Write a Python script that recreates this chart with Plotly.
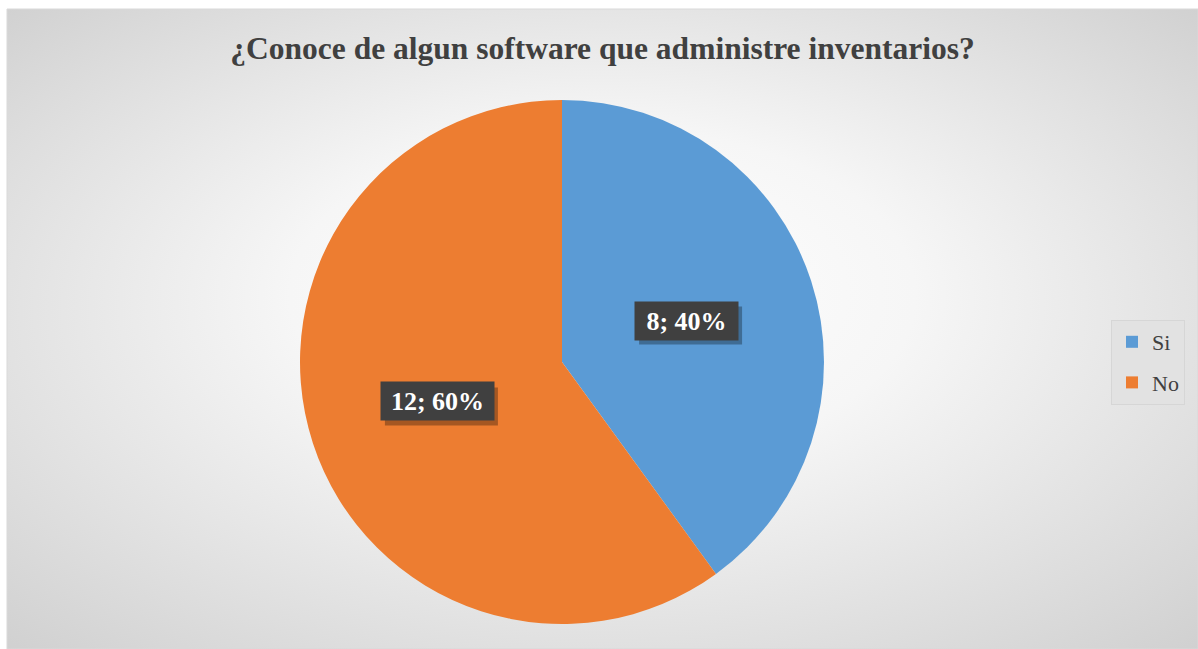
import math
import base64
import plotly.graph_objects as go

categories = ["Si", "No"]
values = [8, 12]
colors = ["#5B9BD5", "#ED7D31"]
title_text = "¿Conoce de algun software que administre inventarios?"

W, H = 1198, 649
cx, cy, R = 562, 362, 262  # pixel centre / radius of pie

fig = go.Figure()
fig.add_trace(go.Pie(
    labels=categories, values=values, sort=False, direction="clockwise",
    rotation=0, marker=dict(colors=colors, line=dict(width=0)),
    textinfo="none", hoverinfo="label+value+percent", showlegend=False,
    domain=dict(x=[(cx - R) / W, (cx + R) / W], y=[(H - cy - R) / H, (H - cy + R) / H]),
))

# legend entries (separate groups so that the gap matches the reference)
for i, (cat, col) in enumerate(zip(categories, colors)):
    fig.add_trace(go.Scatter(x=[None], y=[None], mode="markers", name=cat,
                             marker=dict(symbol="square", size=12, color=col),
                             legendgroup=f"g{i}", showlegend=True, hoverinfo="skip"))

# background radial gradient
svg = f'''<svg xmlns="http://www.w3.org/2000/svg" width="{W}" height="{H}" viewBox="0 0 {W} {H}" preserveAspectRatio="none">
<defs><radialGradient id="g" cx="50%" cy="50%" r="75%" fx="50%" fy="42%">
<stop offset="0%" stop-color="#ffffff"/><stop offset="35%" stop-color="#f6f6f6"/>
<stop offset="100%" stop-color="#cdcdcd"/></radialGradient></defs>
<rect width="{W}" height="{H}" fill="url(#g)"/></svg>'''
uri = "data:image/svg+xml;base64," + base64.b64encode(svg.encode()).decode()
x0, y0 = 7, 9
fig.add_layout_image(dict(source=uri, xref="paper", yref="paper", x=x0 / W, y=1 - y0 / H,
                          sizex=1 - x0 / W, sizey=1 - y0 / H, xanchor="left", yanchor="top",
                          sizing="stretch", layer="below"))
fig.add_shape(type="rect", xref="paper", yref="paper", x0=x0 / W, x1=1, y0=0, y1=1 - y0 / H,
              line=dict(color="#d9d9d9", width=1), layer="below")

# data labels computed from values
total = sum(values)
cum = 0
for cat, v in zip(categories, values):
    mid = (cum + v / 2) / total * 2 * math.pi
    cum += v
    px = cx + 0.5 * R * math.sin(mid)
    py = cy - 0.5 * R * math.cos(mid) - 1
    txt = f"{v}; {round(100 * v / total)}%"
    bw = 95 if v < 10 else 105
    bh = 30
    # shadow
    sx, sy = px + 4, py + 5
    fig.add_shape(type="rect", xref="paper", yref="paper", layer="above",
                  x0=(sx - bw / 2 - 4) / W, x1=(sx + bw / 2 + 4) / W,
                  y0=1 - (sy + bh / 2 + 4) / H, y1=1 - (sy - bh / 2 - 4) / H,
                  fillcolor="rgba(0,0,0,0.30)", line=dict(width=0))
    fig.add_annotation(x=px / W, y=1 - py / H, xref="paper", yref="paper",
                       text=f"<b>{txt}</b>", showarrow=False, bgcolor="#404040",
                       width=bw, height=bh, align="center", valign="middle",
                       font=dict(family="Liberation Serif", size=26, color="white"),
                       borderpad=4, xanchor="center", yanchor="middle")

fig.update_layout(
    width=W, height=H, margin=dict(l=0, r=0, t=0, b=0),
    paper_bgcolor="white", plot_bgcolor="rgba(0,0,0,0)",
    xaxis=dict(visible=False), yaxis=dict(visible=False),
    title=dict(text=f"<b>{title_text}</b>", x=(x0 + W) / 2 / W, xanchor="center",
               y=1 - 48 / H, yanchor="middle",
               font=dict(family="Liberation Serif", size=31.5, color="#404040")),
    showlegend=True,
    legend=dict(x=1111 / W, xanchor="left", y=1 - 320 / H, yanchor="top",
                bgcolor="#e2e2e2", bordercolor="#d6d6d6", borderwidth=1,
                font=dict(family="Liberation Serif", size=22, color="#404040"),
                traceorder="grouped", tracegroupgap=9, itemwidth=30),
)
fig.write_html("out.html", config={"displayModeBar": False},
               post_script="document.body.style.margin='0';document.body.style.overflow='hidden';")
